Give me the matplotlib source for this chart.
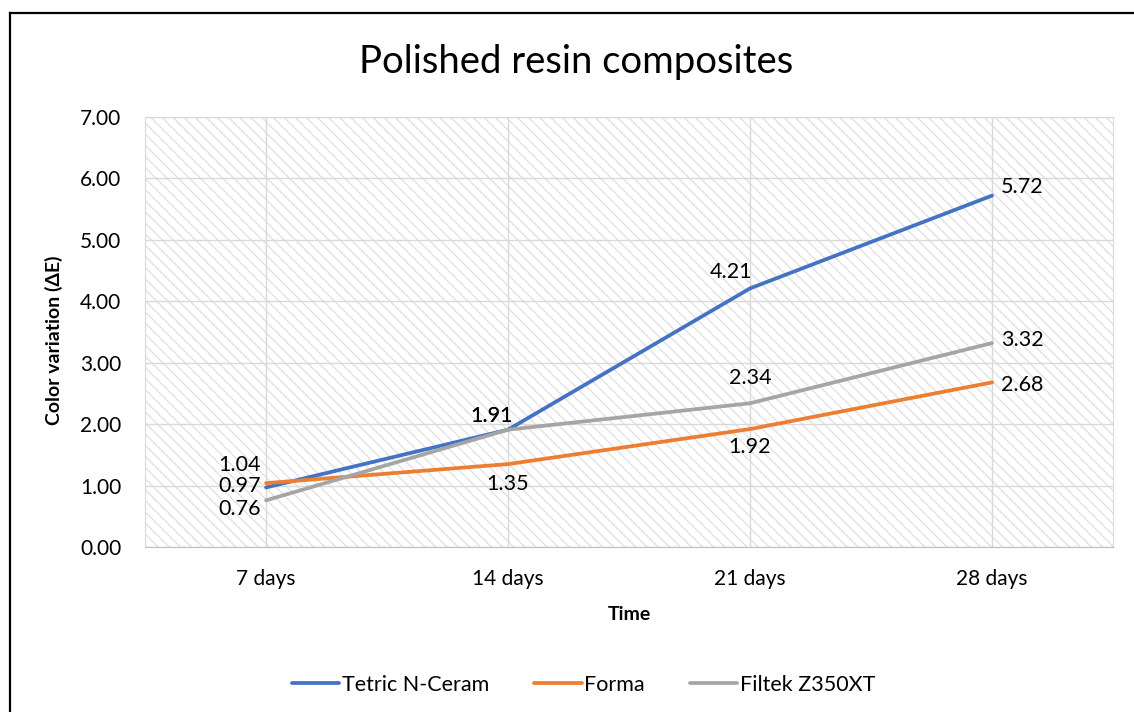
import matplotlib.pyplot as plt
from matplotlib.lines import Line2D
from matplotlib.patches import Rectangle

plt.rcParams['font.family'] = ['Lato', 'DejaVu Sans']
plt.rcParams['hatch.linewidth'] = 1.0
plt.rcParams['hatch.color'] = '#e2e2e2'

# data
days = ['7 days', '14 days', '21 days', '28 days']
tetric = [0.97, 1.91, 4.21, 5.72]
forma = [1.04, 1.35, 1.92, 2.68]
filtek = [0.76, 1.91, 2.34, 3.32]

# label offsets (points) per series, per point
off_tetric = [(-19, 1), (-12, 10), (-14, 12), (22, 6)]
off_forma = [(-19, 13), (0, -14), (0, -13), (22, -2)]
off_filtek = [(-19, -6), (-12, 10), (0, 18), (22, 2)]

fig = plt.figure(figsize=(11.34, 7.12), dpi=100)
ax = fig.add_axes([0.1279, 0.2317, 0.8536, 0.604])

x = list(range(len(days)))
ax.add_patch(Rectangle((0, 0), 1, 1, transform=ax.transAxes, facecolor='white',
                       hatch='\\\\\\', edgecolor='#e2e2e2', linewidth=0, zorder=0))

series = [('Tetric N-Ceram', tetric, '#4472C4', off_tetric),
          ('Forma', forma, '#ED7D31', off_forma),
          ('Filtek Z350XT', filtek, '#A5A5A5', off_filtek)]
for name, vals, col, offs in series:
    ax.plot(x, vals, color=col, lw=2.7, label=name, zorder=3, solid_capstyle='round')
for name, vals, col, offs in series:
    for xi, v, o in zip(x, vals, offs):
        ax.annotate(f'{v:.2f}', (xi, v), xytext=o, textcoords='offset points',
                    ha='center', va='center', fontsize=15.5, color='#000000', zorder=4)

ax.set_xlim(-0.5, 3.5)
ax.set_ylim(0, 7)
ax.set_yticks([i for i in range(8)])
ax.set_yticklabels([f'{i:.2f}' for i in range(8)])
ax.set_xticks(x)
ax.set_xticklabels(days)
ax.tick_params(axis='both', length=0, labelsize=15, colors='#000000')
ax.tick_params(axis='y', pad=17)
ax.tick_params(axis='x', pad=16)
ax.grid(True, color='#d9d9d9', lw=1.0, zorder=1)
ax.set_axisbelow(True)
for s in ['left', 'right', 'top']:
    ax.spines[s].set_color('#d9d9d9')
ax.spines['bottom'].set_color('#bfbfbf')

ax.set_xlabel('Time', fontsize=14, fontweight='bold', labelpad=12)
ax.set_ylabel('Color variation (\u0394E)', fontsize=14, fontweight='bold', labelpad=8)
ax.yaxis.set_label_coords(-0.085, 0.48)

fig.text(0.508, 0.913, 'Polished resin composites', ha='center', va='center', fontsize=27.5)

ax.legend(loc='center', bbox_to_anchor=(0.5146, 0.0381), bbox_transform=fig.transFigure,
          ncol=3, frameon=False, fontsize=15.5, handlelength=2.2, columnspacing=2.1,
          handletextpad=0.12)

fig.add_artist(Line2D([0.0088, 1.0], [0.9817, 0.9817], color='black', lw=1.6,
                      transform=fig.transFigure))
fig.add_artist(Line2D([0.0088, 0.0088], [0.0, 0.9817], color='black', lw=1.6,
                      transform=fig.transFigure))

fig.savefig('out.png', dpi=100)
